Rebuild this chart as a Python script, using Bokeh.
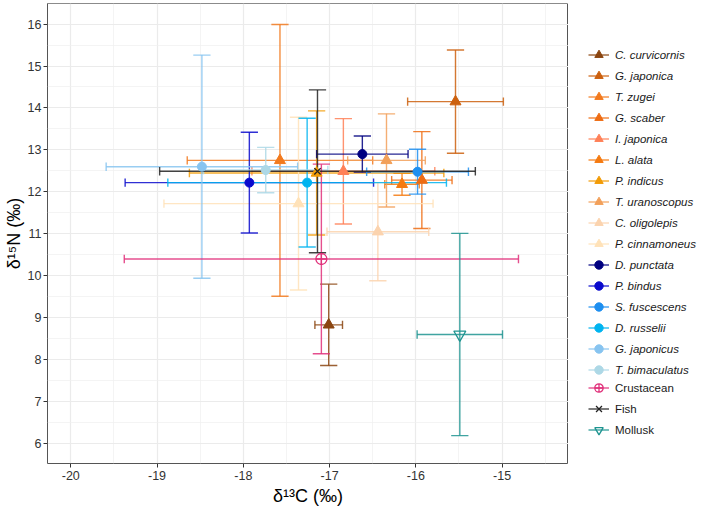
from bokeh.plotting import figure
from bokeh.layouts import row
from bokeh.models import (Range1d, FixedTicker, Legend, LegendItem, ColumnDataSource,
                          PrintfTickFormatter)
from bokeh.embed import file_html
from bokeh.resources import INLINE

# Taxa: 16 species followed by 3 pooled groups
labels = ["C. curvicornis", "G. japonica", "T. zugei", "G. scaber", "I. japonica", "L. alata",
          "P. indicus", "T. uranoscopus", "C. oligolepis", "P. cinnamoneus",
          "D. punctata", "P. bindus", "S. fuscescens", "D. russelii", "G. japonicus",
          "T. bimaculatus", "Crustacean", "Fish", "Mollusk"]

# delta 13C mean and SD (per mil)
d13c_mean = [-17.01, -15.54, -17.575, -15.93, -16.84, -16.16, -17.15, -16.34, -16.44, -17.36,
             -16.62, -17.93, -15.98, -17.26, -18.48, -17.74, -17.095, -17.14, -15.49]
d13c_sd = [0.16, 0.555, 1.075, 0.35, 1.06, 0.20, 1.475, 0.45, 0.59, 1.56,
           0.53, 1.44, 0.59, 1.615, 1.11, 0.72, 2.285, 1.83, 0.495]

# delta 15N mean and SD (per mil)
d15n_mean = [8.83, 14.15, 12.75, 12.28, 12.49, 12.18, 12.45, 12.75, 11.05, 11.72,
             12.90, 12.22, 12.48, 12.22, 12.60, 12.52, 10.40, 12.49, 8.60]
d15n_sd = [0.97, 1.23, 3.24, 1.155, 1.255, 0.26, 1.48, 1.11, 1.17, 2.06,
           0.43, 1.20, 0.535, 1.535, 2.66, 0.54, 2.26, 1.94, 2.41]

x_ticks = [-20, -19, -18, -17, -16, -15]
y_ticks = [6, 7, 8, 9, 10, 11, 12, 13, 14, 15, 16]

# styling per taxon
colors = ["#8B4510", "#CC600E", "#F27A1E", "#EE6C12", "#FF8057", "#F57A10",
          "#F29B06", "#F2A05A", "#FBD3AE", "#FFE2B8",
          "#000080", "#0A0ACD", "#1E8FF0", "#00B4F0", "#87C4F0", "#ADD8E6",
          "#E0307A", "#222222", "#1E9490"]
markers = ["triangle"] * 10 + ["circle"] * 6 + ["circle_cross", "x", "inverted_triangle"]
sizes = [11] * 10 + [9] * 6 + [11, 9, 12]
hollow = [False] * 16 + [True, True, True]
italic_count = 16

CAP_X = 0.10  # half width of vertical-bar caps (x units)
CAP_Y = 0.10  # half height of horizontal-bar caps (y units)

FONT = "Liberation Sans"

p = figure(width=568, height=508,
           x_range=Range1d(-20.27, -14.23), y_range=Range1d(5.525, 16.49),
           output_backend="svg", toolbar_location=None,
           min_border_left=46, min_border_right=0, min_border_top=3, min_border_bottom=43)

p.background_fill_color = "white"
p.border_fill_color = "white"
p.outline_line_color = "#555555"
p.outline_line_width = 1

p.xaxis.ticker = FixedTicker(ticks=x_ticks, minor_ticks=[t + 0.5 for t in [-21] + x_ticks])
p.yaxis.ticker = FixedTicker(ticks=y_ticks, minor_ticks=[t + 0.5 for t in [5] + y_ticks])
p.xaxis.formatter = PrintfTickFormatter(format="%d")
p.yaxis.formatter = PrintfTickFormatter(format="%d")
p.xgrid.grid_line_color = "#EBEBEB"
p.ygrid.grid_line_color = "#EBEBEB"
p.xgrid.grid_line_width = 1.2
p.ygrid.grid_line_width = 1.2
p.xgrid.minor_grid_line_color = "#EFEFEF"
p.ygrid.minor_grid_line_color = "#EFEFEF"
p.xgrid.minor_grid_line_width = 0.7
p.ygrid.minor_grid_line_width = 0.7

for ax in (p.xaxis, p.yaxis):
    ax.axis_line_color = None
    ax.major_tick_in = 0
    ax.major_tick_out = 4
    ax.minor_tick_out = 0
    ax.minor_tick_in = 0
    ax.major_tick_line_color = "#333333"
    ax.major_label_text_font = FONT
    ax.major_label_text_font_size = "12.5px"
    ax.major_label_text_color = "#333333"
    ax.major_label_standoff = 3
    ax.axis_label_text_font = FONT
    ax.axis_label_text_font_size = "18px"
    ax.axis_label_text_font_style = "normal"
    ax.axis_label_text_color = "#000000"
    ax.axis_label_standoff = 3

p.yaxis.major_label_standoff = 2
p.yaxis.axis_label_standoff = 1

p.xaxis.axis_label = "δ¹³C (‰)"
p.yaxis.axis_label = "δ¹⁵N (‰)"

# one source per taxon for its error bars, one for its mean point
bar_sources = []
pt_sources = []
for i in range(len(labels)):
    x, y = d13c_mean[i], d15n_mean[i]
    sx, sy = d13c_sd[i], d15n_sd[i]
    bar_sources.append(ColumnDataSource(dict(
        x0=[x - sx, x - sx, x + sx, x, x - CAP_X, x - CAP_X],
        y0=[y, y - CAP_Y, y - CAP_Y, y - sy, y - sy, y + sy],
        x1=[x + sx, x - sx, x + sx, x, x + CAP_X, x + CAP_X],
        y1=[y, y + CAP_Y, y + CAP_Y, y + sy, y - sy, y + sy],
    )))
    pt_sources.append(ColumnDataSource(dict(x=[x], y=[y])))


def draw_bars(fig, i):
    return fig.segment("x0", "y0", "x1", "y1", source=bar_sources[i], line_color=colors[i],
                       line_width=1.4, line_alpha=0.85)


def draw_point(fig, i):
    if hollow[i]:
        return fig.scatter("x", "y", source=pt_sources[i], marker=markers[i], size=sizes[i],
                           line_color=colors[i], fill_color=None, line_width=1.3)
    return fig.scatter("x", "y", source=pt_sources[i], marker=markers[i], size=sizes[i],
                       line_color=colors[i], fill_color=colors[i], line_width=1)


# error bars first, points on top
for i in range(len(labels)):
    draw_bars(p, i)
for i in range(len(labels)):
    draw_point(p, i)

# key panel to the right of the plot; its ranges keep the shared glyphs out of view
lp = figure(width=136, height=508, output_backend="svg", toolbar_location=None,
            x_range=Range1d(0, 1), y_range=Range1d(0, 1),
            min_border_left=0, min_border_right=0, min_border_top=3, min_border_bottom=43,
            outline_line_color=None)
lp.axis.visible = False
lp.grid.visible = False
lp.background_fill_color = "white"
lp.border_fill_color = "white"

key_bars = [draw_bars(lp, i) for i in range(len(labels))]
key_pts = [draw_point(lp, i) for i in range(len(labels))]

items_species = [LegendItem(label=labels[i], renderers=[key_bars[i], key_pts[i]])
                 for i in range(italic_count)]
items_groups = [LegendItem(label=labels[i], renderers=[key_bars[i], key_pts[i]])
                for i in range(italic_count, len(labels))]


def make_legend(items, style, loc):
    return Legend(items=items, location=loc, orientation="vertical",
                  glyph_width=21, glyph_height=21, spacing=0, label_height=20,
                  label_standoff=6, padding=0, margin=0,
                  border_line_color=None, background_fill_alpha=0,
                  label_text_font=FONT, label_text_font_size="11.5px",
                  label_text_font_style=style, label_text_color="#1A1A1A")


lp.add_layout(make_legend(items_species, "italic", (20, 83)), "center")
lp.add_layout(make_legend(items_groups, "normal", (20, 23)), "center")

layout = row(p, lp, spacing=0)
open("out.html", "w").write(file_html(layout, INLINE))
